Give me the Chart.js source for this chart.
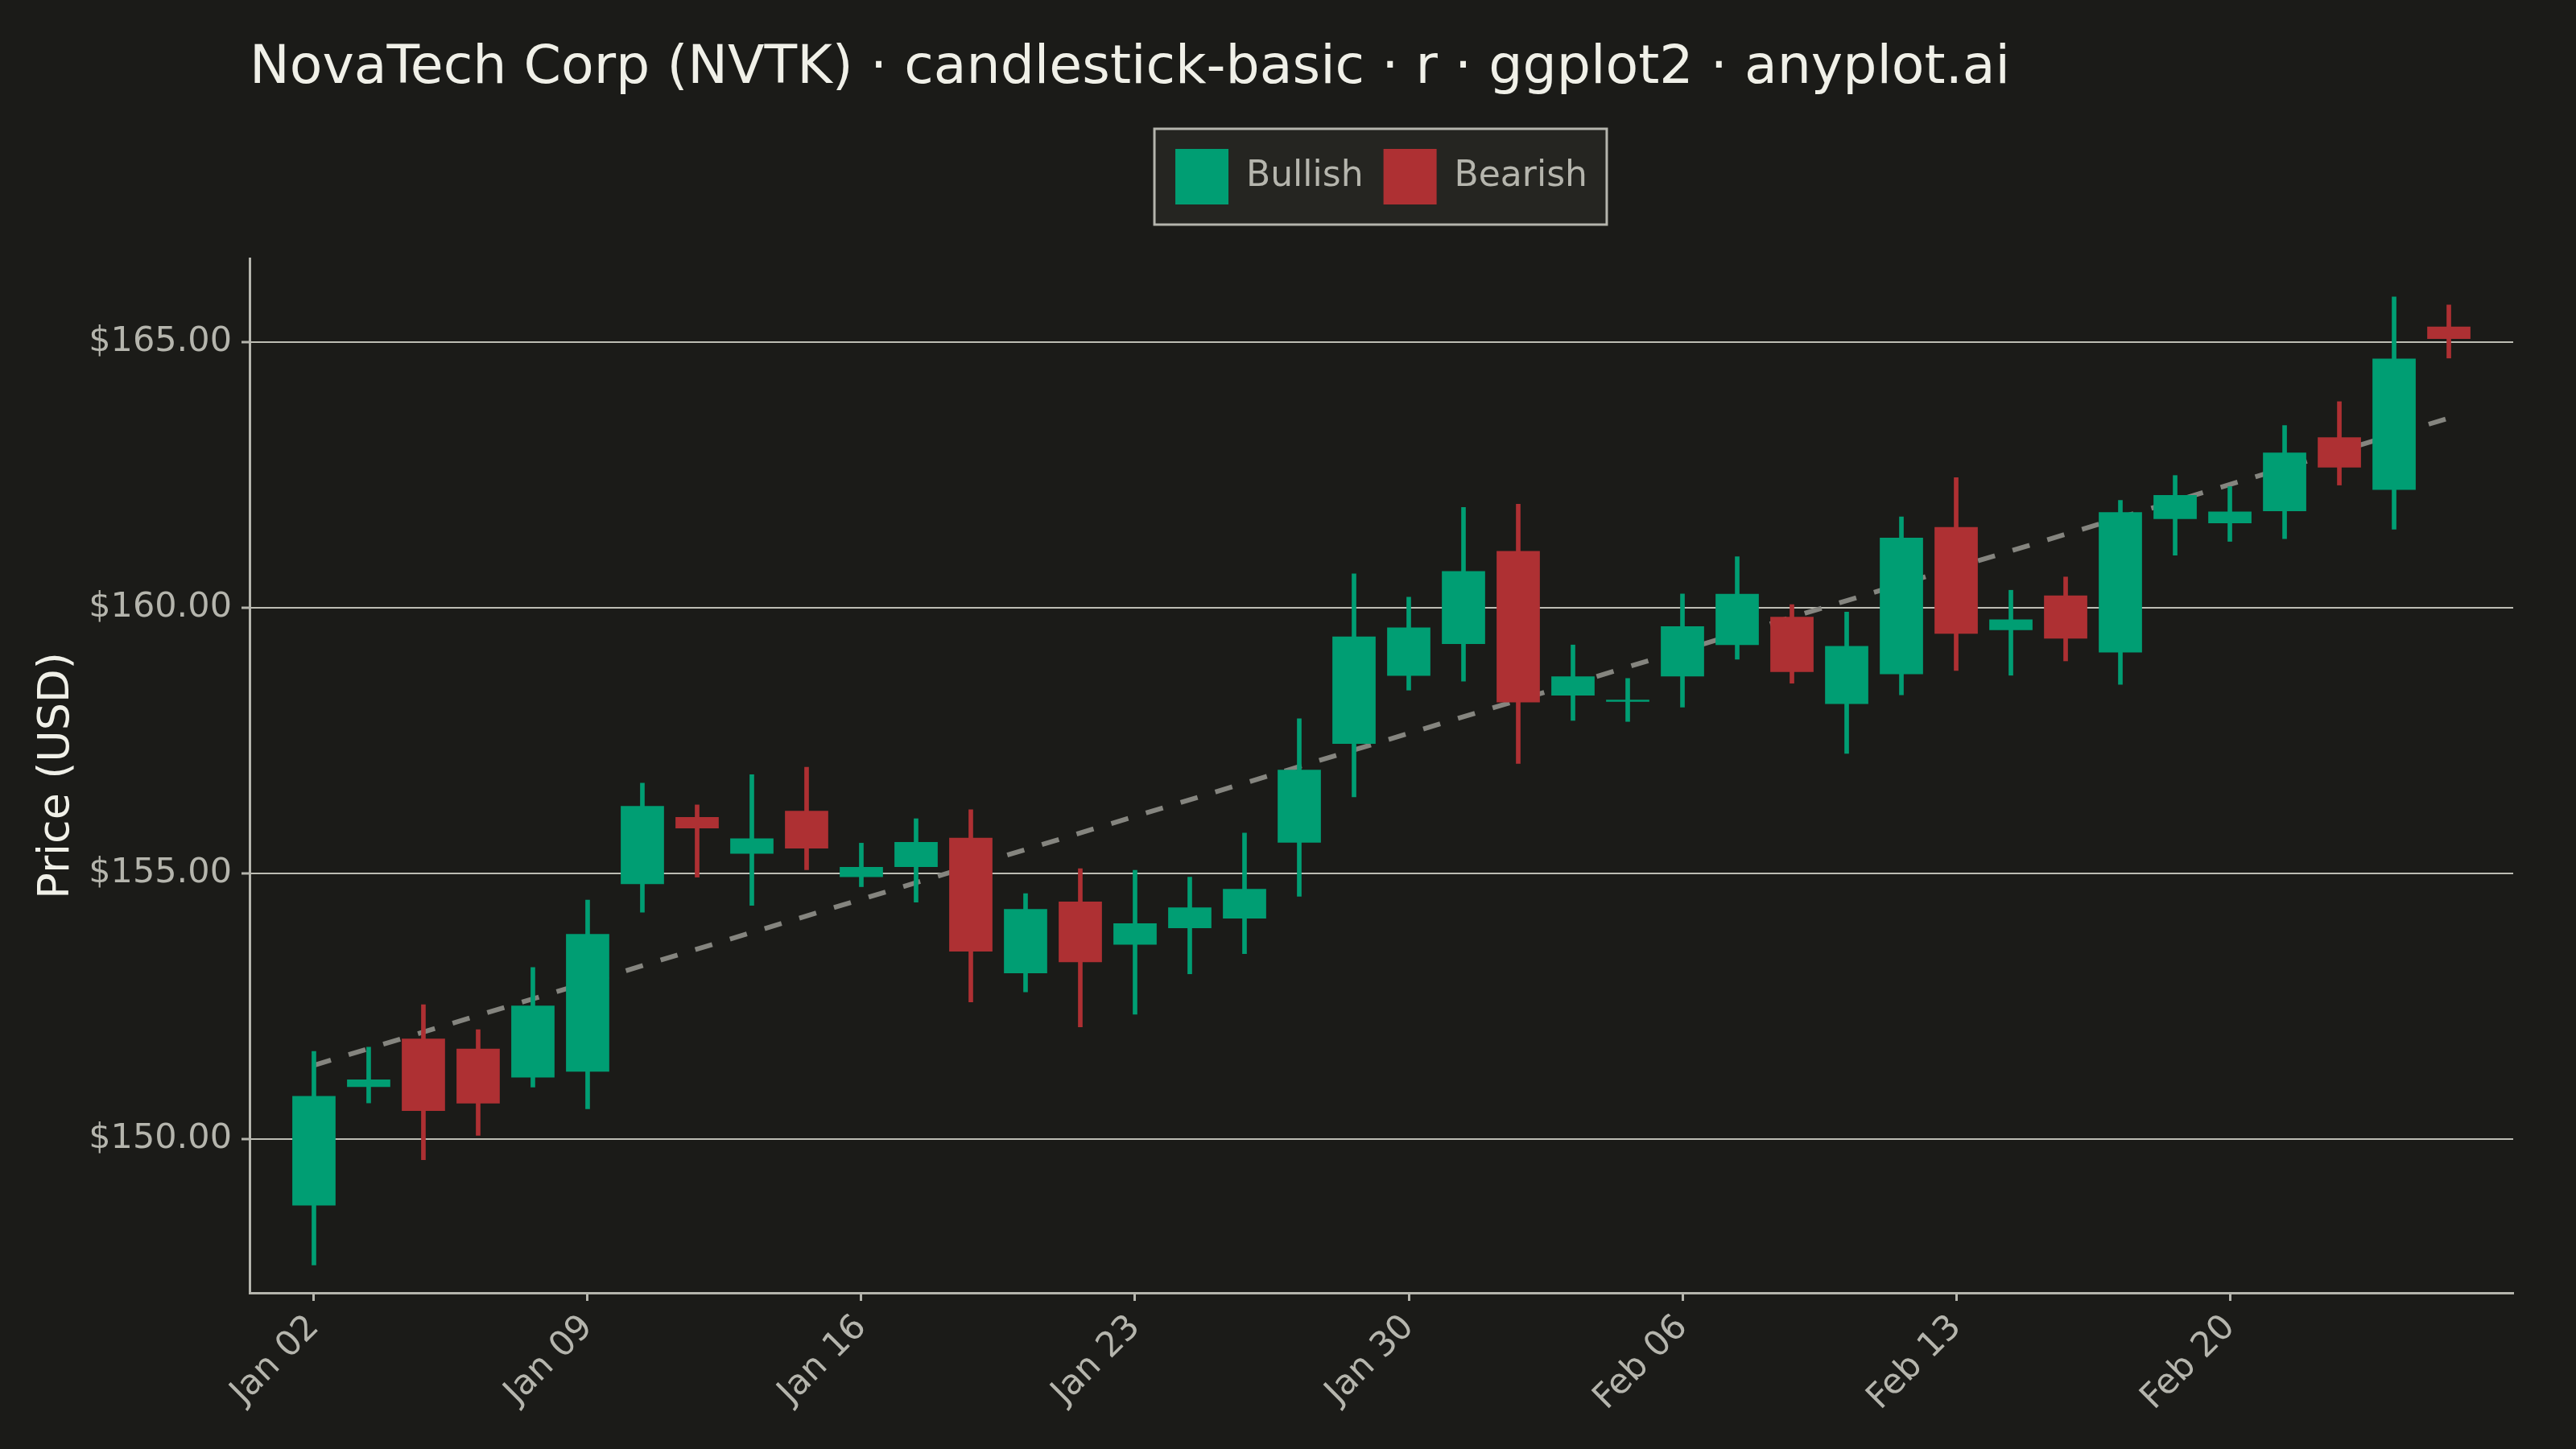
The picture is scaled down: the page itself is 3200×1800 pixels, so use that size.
<!DOCTYPE html>
<html>
<head>
<meta charset="utf-8">
<script src="https://cdn.jsdelivr.net/npm/chart.js@4.4.1/dist/chart.umd.min.js"></script>
<style>
  body { margin: 0; background: #1B1B18; }
  canvas { display: block; }
</style>
</head>
<body>
<canvas id="grafico" width="3200" height="1800"></canvas>
<script>
// dias habiles (indice 0..39)
const fechas = ["Jan 02","Jan 03","Jan 04","Jan 05","Jan 08","Jan 09","Jan 10","Jan 11","Jan 12","Jan 15",
                "Jan 16","Jan 17","Jan 18","Jan 19","Jan 22","Jan 23","Jan 24","Jan 25","Jan 26","Jan 29",
                "Jan 30","Jan 31","Feb 01","Feb 02","Feb 05","Feb 06","Feb 07","Feb 08","Feb 09","Feb 12",
                "Feb 13","Feb 14","Feb 15","Feb 16","Feb 19","Feb 20","Feb 21","Feb 22","Feb 23","Feb 26"];
const aperturas = [148.75,150.98,151.89,151.70,151.16,151.27,154.80,156.06,155.37,156.18,
                   154.93,155.12,155.67,153.12,154.47,153.66,153.97,154.15,155.58,157.44,
                   158.72,159.32,161.07,158.35,158.23,158.71,159.30,159.83,158.19,158.75,
                   161.52,159.58,160.23,159.16,161.67,161.59,161.82,163.21,162.22,165.29];
const maximos = [151.65,151.73,152.53,152.06,153.23,154.50,156.70,156.29,156.86,157.00,
                 155.57,156.03,156.20,154.62,155.09,155.06,154.93,155.76,157.91,160.64,
                 160.20,161.89,161.95,159.30,158.67,160.26,160.96,160.06,159.92,161.71,
                 162.45,160.33,160.58,162.02,162.49,162.28,163.43,163.88,165.85,165.70];
const minimos = [147.63,150.68,149.61,150.07,150.98,150.57,154.27,154.93,154.40,155.07,
                 154.75,154.46,152.58,152.77,152.11,152.35,153.11,153.49,154.57,156.44,
                 158.45,158.62,157.07,157.88,157.86,158.13,159.03,158.58,157.26,158.36,
                 158.82,158.73,159.00,158.56,160.99,161.25,161.30,162.31,161.48,164.70];
const cierres = [150.81,151.12,150.53,150.67,152.51,153.86,156.27,155.85,155.66,155.47,
                 155.12,155.59,153.53,154.33,153.33,154.06,154.36,154.71,156.95,159.46,
                 159.63,160.69,158.22,158.71,158.27,159.65,160.26,158.79,159.28,161.32,
                 159.51,159.78,159.42,161.80,162.12,161.81,162.92,162.64,164.69,165.06];
// tendencia (extremos)
const tendenciaX = [0, 39];
const tendenciaY = [151.39, 163.57];
const ticksX = [0, 5, 10, 15, 20, 25, 30, 35];
const ticksY = [150, 155, 160, 165];

const VERDE = '#009E73';
const ROJO = '#AE3033';
const GRIS = '#B5B5AD';
const FUENTE = 'DejaVu Sans';

// separo las velas alcistas y bajistas
let cuerposSube = [], cuerposBaja = [], mechasSube = [], mechasBaja = [];
for (let i = 0; i < fechas.length; i++) {
    const cuerpo = {x: i, y: [aperturas[i], cierres[i]]};
    const mecha = {x: i, y: [minimos[i], maximos[i]]};
    if (cierres[i] >= aperturas[i]) {
        cuerposSube.push(cuerpo);
        mechasSube.push(mecha);
    } else {
        cuerposBaja.push(cuerpo);
        mechasBaja.push(mecha);
    }
}

// fondo y recuadro de la leyenda
const fondo = {
    id: 'fondo',
    beforeDraw(chart) {
        const ctx = chart.ctx;
        ctx.save();
        ctx.fillStyle = '#1B1B18';
        ctx.fillRect(0, 0, chart.width, chart.height);
        const cajas = chart.legend.legendHitBoxes;
        if (cajas && cajas.length) {
            const izq = cajas[0].left - 26;
            const ult = cajas[cajas.length - 1];
            const der = ult.left + ult.width + 24;
            const arriba = cajas[0].top - 25;
            const abajo = cajas[0].top + cajas[0].height + 25;
            ctx.fillStyle = '#252521';
            ctx.fillRect(izq, arriba, der - izq, abajo - arriba);
            ctx.strokeStyle = GRIS;
            ctx.lineWidth = 3;
            ctx.strokeRect(izq, arriba, der - izq, abajo - arriba);
        }
        ctx.restore();
    }
};

const ctx = document.getElementById('grafico').getContext('2d');
new Chart(ctx, {
    data: {
        datasets: [
            {type: 'bar', label: 'Bullish', data: cuerposSube, backgroundColor: VERDE,
             grouped: false, barPercentage: 0.79, categoryPercentage: 1},
            {type: 'bar', label: 'Bearish', data: cuerposBaja, backgroundColor: ROJO,
             grouped: false, barPercentage: 0.79, categoryPercentage: 1},
            {type: 'bar', label: 'mecha+', data: mechasSube, backgroundColor: VERDE,
             grouped: false, barThickness: 5},
            {type: 'bar', label: 'mecha-', data: mechasBaja, backgroundColor: ROJO,
             grouped: false, barThickness: 5},
            {type: 'line', label: 'tendencia',
             data: tendenciaX.map((x, k) => ({x: x, y: tendenciaY[k]})),
             borderColor: '#85857F', borderWidth: 6, borderDash: [22, 23],
             pointRadius: 0, fill: false}
        ]
    },
    options: {
        responsive: false,
        devicePixelRatio: 1,
        animation: false,
        layout: {padding: {left: 0, right: 78, top: 0, bottom: 0}},
        plugins: {
            title: {
                display: true,
                text: 'NovaTech Corp (NVTK) · candlestick-basic · r · ggplot2 · anyplot.ai',
                align: 'start',
                fullSize: false,
                color: '#F0F0E8',
                font: {family: FUENTE, size: 66.5, weight: 'normal', lineHeight: 1.2},
                padding: {top: 46, bottom: 34.2}
            },
            subtitle: {
                display: true,
                text: '',
                fullSize: false,
                weight: 500,
                font: {size: 10, lineHeight: 1.2},
                padding: {top: 45, bottom: 0}
            },
            legend: {
                display: true,
                position: 'top',
                fullSize: false,
                labels: {
                    filter: (item) => item.datasetIndex < 2,
                    boxWidth: 66,
                    boxHeight: 69,
                    padding: 25,
                    color: GRIS,
                    font: {family: FUENTE, size: 44}
                }
            },
            tooltip: {enabled: false}
        },
        scales: {
            x: {
                type: 'linear',
                offset: false,
                min: -1.176,
                max: 40.176,
                afterBuildTicks: (scale) => { scale.ticks = ticksX.map(v => ({value: v})); },
                afterFit: (scale) => { scale.height = 194; },
                ticks: {
                    autoSkip: false,
                    minRotation: 45,
                    maxRotation: 45,
                    color: GRIS,
                    padding: 8,
                    font: {family: FUENTE, size: 43},
                    callback: (v) => fechas[v]
                },
                grid: {offset: false, drawOnChartArea: false, drawTicks: true, tickLength: 10, tickWidth: 3, tickColor: GRIS},
                border: {display: true, color: GRIS, width: 3}
            },
            y: {
                type: 'linear',
                min: 147.106,
                max: 166.576,
                afterBuildTicks: (scale) => { scale.ticks = ticksY.map(v => ({value: v})); },
                afterFit: (scale) => { scale.width = 310; },
                ticks: {
                    color: GRIS,
                    padding: 12,
                    font: {family: FUENTE, size: 43},
                    callback: (v) => '$' + v.toFixed(2)
                },
                grid: {color: '#BDBDB4', lineWidth: 2, tickLength: 10, tickWidth: 3, tickColor: GRIS},
                border: {display: true, color: GRIS, width: 3},
                title: {
                    display: true,
                    text: 'Price (USD)',
                    color: '#F0F0E8',
                    font: {family: FUENTE, size: 54, lineHeight: 1.2},
                    padding: {top: 39, bottom: 0}
                }
            }
        }
    },
    plugins: [fondo]
});
</script>
</body>
</html>
